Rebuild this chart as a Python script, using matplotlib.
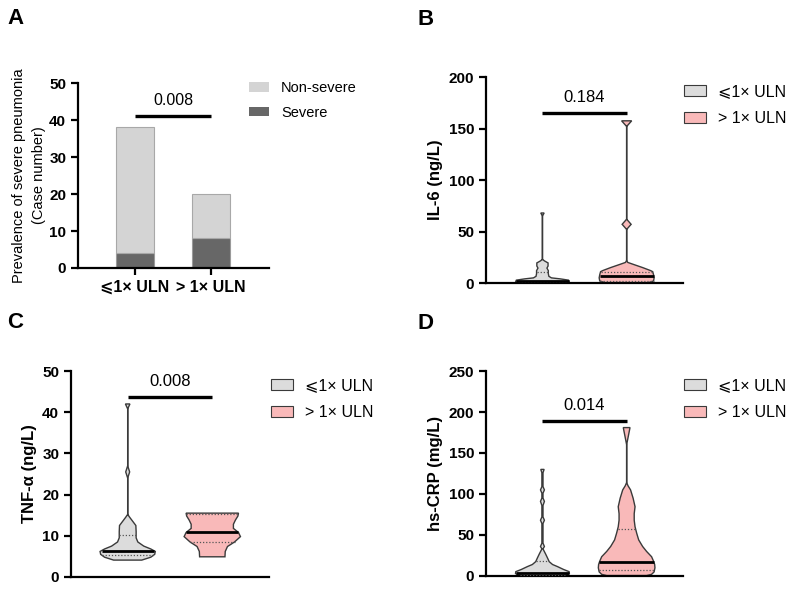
import matplotlib
matplotlib.use("Agg")
import matplotlib.pyplot as plt
from matplotlib.patches import Patch
import numpy as np

plt.rcParams['font.family'] = ['Liberation Sans', 'DejaVu Sans']

# ---- panel A data ----
groups = ['⩽1× ULN', '> 1× ULN']
severe = [4, 8]
non_severe = [34, 12]
p_a = '0.008'

# ---- violin profiles: value levels and relative density (1 = widest) ----
il6_low_y = [0.2, 1.2, 2.8, 4, 5, 6.5, 9, 12, 14.5, 16.5, 19.5, 21.5, 23, 65, 68]
il6_low_d = [0.71, 0.96, 0.93, 0.64, 0.32, 0.23, 0.21, 0.21, 0.16, 0.2, 0.2, 0.07, 0, 0, 0.06]
il6_high_y = [0.4, 2, 5, 8, 11, 12, 15, 18, 20, 22, 52, 57, 62, 152, 157.5]
il6_high_d = [0.79, 0.96, 0.98, 0.96, 0.93, 0.86, 0.57, 0.25, 0.04, 0, 0, 0.16, 0, 0, 0.18]
il6_low_q = [0.8, 2, 11]
il6_high_q = [2, 7, 11]
p_il6 = '0.184'

tnf_low_y = [4.1, 4.8, 5.5, 6.2, 6.8, 7.5, 8.5, 9.5, 11, 12.5, 13.5, 14.5, 15.2, 24, 25.5, 27, 40.8, 42]
tnf_low_d = [0.5, 0.82, 0.96, 0.98, 0.82, 0.57, 0.36, 0.3, 0.3, 0.29, 0.18, 0.07, 0, 0, 0.07, 0, 0, 0.08]
tnf_high_y = [4.9, 6.2, 7.4, 8.5, 9.8, 10.8, 11.8, 12.8, 13.8, 14.8, 15.5]
tnf_high_d = [0.45, 0.46, 0.54, 0.79, 1.0, 0.93, 0.75, 0.75, 0.82, 0.91, 0.93]
tnf_low_q = [5.3, 6.4, 10.2]
tnf_high_q = [8.6, 10.8, 15.3]
p_tnf = '0.008'

crp_low_y = [0.3, 1.2, 3, 5.3, 8, 11.4, 14, 17.5, 22, 27, 31, 33, 36, 40, 64, 68, 72,
             86, 91, 95, 101, 105, 109, 126, 130]
crp_low_d = [0.64, 0.86, 0.96, 0.95, 0.75, 0.54, 0.36, 0.24, 0.18, 0.11, 0.05, 0.02, 0.07,
             0.02, 0.02, 0.07, 0.02, 0.02, 0.07, 0.02, 0.02, 0.07, 0.02, 0.02, 0.06]
crp_high_y = [0.5, 2, 5, 10, 14, 18, 23.5, 30, 36, 44, 52, 60, 68, 76, 84.5, 95, 105, 110, 114, 160, 181]
crp_high_d = [0.71, 0.89, 0.98, 1.01, 1.0, 0.96, 0.89, 0.71, 0.57, 0.43, 0.36, 0.3, 0.27, 0.27,
              0.3, 0.23, 0.14, 0.05, 0, 0, 0.12]
crp_low_q = [1, 4, 18]
crp_high_q = [7.3, 16.7, 57]
p_crp = '0.014'

GRAY = '#dcdcdc'
PINK = '#f9b9b9'
EDGE = '#3a3a3a'
HALF = 0.333


def style_axis(ax):
    for s in ['top', 'right']:
        ax.spines[s].set_visible(False)
    for s in ['left', 'bottom']:
        ax.spines[s].set_linewidth(1.6)
    ax.tick_params(axis='y', width=1.6, length=5, labelsize=11)
    for lab in ax.get_yticklabels():
        lab.set_fontweight('bold')


def draw_violin(ax, center, ys, dens, quart, face):
    ys = np.asarray(ys, float)
    w = np.asarray(dens, float) * HALF
    xs = np.concatenate([center - w, (center + w)[::-1]])
    yy = np.concatenate([ys, ys[::-1]])
    ax.fill(xs, yy, facecolor=face, edgecolor=EDGE, lw=1.0, zorder=2)
    for i, q in enumerate(quart):
        hw = np.interp(q, ys, w)
        if i == 1:
            ax.plot([center - hw, center + hw], [q, q], color='black', lw=2.0, zorder=3,
                    solid_capstyle='butt')
        else:
            ax.plot([center - hw, center + hw], [q, q], color='#555555', lw=0.9,
                    ls=(0, (1, 1.5)), zorder=3)


def sig_bar(ax, y_line, y_text, text):
    ax.plot([0, 1], [y_line, y_line], color='black', lw=2.4, solid_capstyle='butt', zorder=4)
    ax.text(0.5, y_text, text, ha='center', va='center', fontsize=12)


def violin_panel(ax, low, high, p, y_line, y_text, ymax, step, ylabel, leg_anchor):
    draw_violin(ax, 0, low[0], low[1], low[2], GRAY)
    draw_violin(ax, 1, high[0], high[1], high[2], PINK)
    sig_bar(ax, y_line, y_text, p)
    ax.set_xlim(-0.67, 1.67)
    ax.set_ylim(0, ymax)
    ax.set_yticks(np.arange(0, ymax + 1, step))
    ax.set_xticks([])
    ax.set_ylabel(ylabel, fontsize=12, fontweight='bold', labelpad=4)
    style_axis(ax)
    handles = [Patch(facecolor=GRAY, edgecolor=EDGE, lw=0.8, label=groups[0]),
               Patch(facecolor=PINK, edgecolor=EDGE, lw=0.8, label=groups[1])]
    ax.legend(handles=handles, loc='upper left', bbox_to_anchor=leg_anchor, frameon=False,
              fontsize=11.5, handlelength=1.4, handleheight=0.65, handletextpad=0.75,
              labelspacing=0.75, borderpad=0, borderaxespad=0)


fig = plt.figure(figsize=(7.96, 5.89), dpi=100)

# ---- A ----
axA = fig.add_axes([0.098, 0.545, 0.240, 0.314])
x = np.arange(len(groups))
axA.bar(x, severe, width=0.5, color='#676767', edgecolor='#9a9a9a', lw=0.8, label='Severe', zorder=2)
axA.bar(x, non_severe, width=0.5, bottom=severe, color='#d4d4d4', edgecolor='#a8a8a8', lw=0.8,
        label='Non-severe', zorder=2)
axA.plot([0, 1], [41.1, 41.1], color='black', lw=2.4, solid_capstyle='butt')
axA.text(0.5, 45.4, p_a, ha='center', va='center', fontsize=11.5)
axA.set_xlim(-0.75, 1.76)
axA.set_ylim(0, 50)
axA.set_yticks(np.arange(0, 51, 10))
axA.set_xticks(x)
axA.set_xticklabels(groups, fontsize=11.5, fontweight='bold')
axA.tick_params(axis='x', width=1.6, length=5)
axA.set_ylabel('Prevalence of severe pneumonia\n(Case number)', fontsize=10.5, labelpad=2,
               linespacing=1.6)
style_axis(axA)
hA = [Patch(facecolor='#d4d4d4', label='Non-severe'), Patch(facecolor='#676767', label='Severe')]
axA.legend(handles=hA, loc='upper left', bbox_to_anchor=(0.895, 1.01), frameon=False,
           fontsize=10.5, handlelength=1.37, handleheight=0.62, handletextpad=0.82,
           labelspacing=0.72, borderpad=0, borderaxespad=0)

# ---- B ----
axB = fig.add_axes([0.6106, 0.5195, 0.2475, 0.3497])
violin_panel(axB, (il6_low_y, il6_low_d, il6_low_q), (il6_high_y, il6_high_d, il6_high_q),
             p_il6, 165, 180, 200, 50, 'IL-6 (ng/L)', (1.005, 0.965))

# ---- C ----
axC = fig.add_axes([0.0892, 0.0204, 0.2487, 0.3497])
violin_panel(axC, (tnf_low_y, tnf_low_d, tnf_low_q), (tnf_high_y, tnf_high_d, tnf_high_q),
             p_tnf, 43.8, 47.4, 50, 10, 'TNF-α (ng/L)', (1.01, 0.965))

# ---- D ----
axD = fig.add_axes([0.6106, 0.0221, 0.2475, 0.348])
violin_panel(axD, (crp_low_y, crp_low_d, crp_low_q), (crp_high_y, crp_high_d, crp_high_q),
             p_crp, 189.4, 208.5, 250, 50, 'hs-CRP (mg/L)', (1.005, 0.965))

for lbl, px, py in [('A', 0.009, 0.986), ('B', 0.524, 0.984), ('C', 0.009, 0.470), ('D', 0.524, 0.469)]:
    fig.text(px, py, lbl, fontsize=16, fontweight='bold', va='top', ha='left')

fig.savefig('out.png', dpi=100)
